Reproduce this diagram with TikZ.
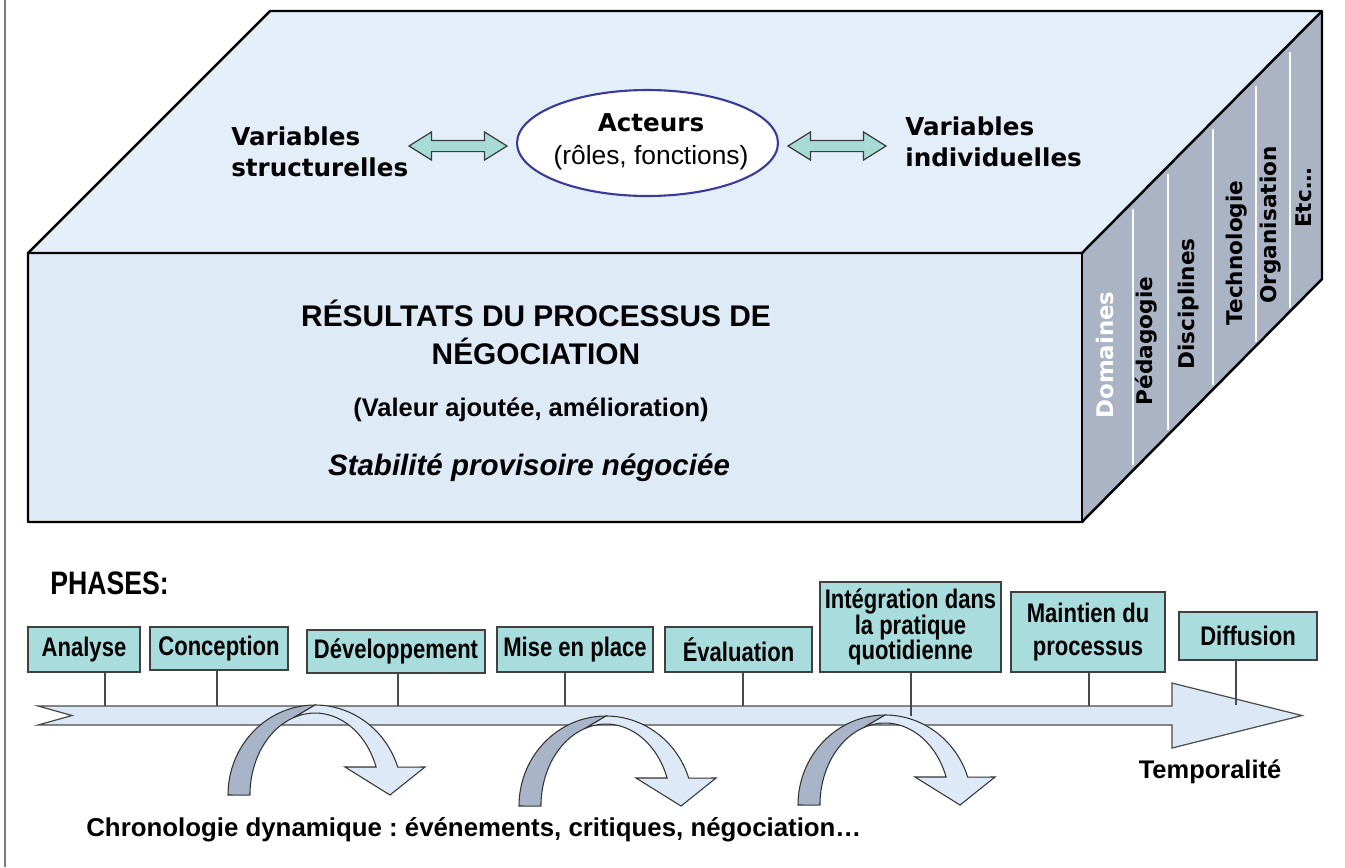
\documentclass[tikz,border=0pt]{standalone}
\usepackage{fontspec}
\setmainfont{Liberation Sans}
\newfontfamily\wideface{DejaVu Sans}
\newfontfamily\narrowface[FakeStretch=0.82]{Liberation Sans}
\usetikzlibrary{shapes.geometric,shapes.arrows}
\frenchspacing

\definecolor{topface}{HTML}{E4EEF8}
\definecolor{frontface}{HTML}{DEEAF6}
\definecolor{sideface}{HTML}{AAB4C5}
\definecolor{phasefill}{HTML}{A9DCDC}
\definecolor{phaseedge}{HTML}{404040}
\definecolor{linkfill}{HTML}{A6DBD6}
\definecolor{linkedge}{HTML}{3C3C3C}
\definecolor{timefill}{HTML}{DCE8F5}
\definecolor{timeedge}{HTML}{4A4A4A}
\definecolor{archback}{HTML}{A8B5C9}
\definecolor{archfront}{HTML}{DDE9F6}
\definecolor{archedge}{HTML}{333333}
\definecolor{actorblue}{HTML}{3A3A9A}
\definecolor{framegray}{HTML}{7A7A7A}

\newcommand\phasefont{\narrowface\bfseries\fontsize{15.3}{14.6}\selectfont\lineskiplimit=-20pt}
\newcommand\sidefont{\wideface\bfseries\fontsize{12.3}{14}\selectfont}

% loop arrow: #1 = left edge of the back leg, #2 = foot line
\newcommand\DrawLoopArrow[2]{%
  \begin{scope}[shift={(#1,#2)}]
    \draw[fill=archback,draw=archedge,line width=0.6pt] (0,0)
      arc[start angle=180,end angle=270,x radius=87,y radius=90] -- (65.8,-77.5)
      arc[start angle=251,end angle=180,x radius=65,y radius=82] -- cycle;
    \draw[fill=archfront,draw=archedge,line width=0.6pt] (87,-90)
      arc[start angle=270,end angle=341.9,x radius=87,y radius=90]
      -- (197,-28) -- (162,0) -- (117,-28) -- (148.1,-28)
      arc[start angle=340,end angle=251,x radius=65,y radius=82] -- cycle;
  \end{scope}
}

\tikzset{
  box edge/.style={draw=black,line width=1.4pt,line join=round},
  phase/.style={draw=phaseedge,fill=phasefill,line width=0.8pt,inner sep=0pt,
    align=center,font=\phasefont},
  tick/.style={draw=timeedge,line width=0.6pt},
  twoway/.style={double arrow,draw=linkedge,fill=linkfill,line width=0.7pt,
    inner xsep=0pt,inner ysep=0.1cm,double arrow head extend=0.17cm,
    double arrow tip angle=64,minimum width=0.54cm},
  divider/.style={white,line width=1pt},
  domain label/.style={rotate=90,inner sep=0pt,font=\sidefont}
}

\begin{document}
\begin{tikzpicture}[x=0.02cm,y=-0.02cm]

	\useasboundingbox (0,0) rectangle (1345,867);
	\draw[framegray,line width=0.8pt] (5,0) -- (5,867);

	% the block: top, front and side faces
	\fill[topface] (28,253) -- (270,11) -- (1322,11) -- (1082,253) -- cycle;
	\fill[frontface] (28,253) rectangle (1082,522);
	\fill[sideface] (1082,253) -- (1322,11) -- (1322,279) -- (1082,522) -- cycle;
	\foreach \xd in {1133,1168,1213,1256,1290}
		\draw[divider] (\xd,{260-(\xd-1082)}) -- (\xd,{516-(\xd-1082)});
	\draw[box edge] (28,253) -- (270,11) -- (1322,11) -- (1322,279) -- (1082,522)
		-- (28,522) -- cycle;
	\draw[box edge] (28,253) -- (1082,253) -- (1322,11);
	\draw[box edge] (1082,253) -- (1082,522);

	% domains on the side face
	\node[domain label,text=white,font=\wideface\bfseries\fontsize{13}{15}\selectfont]
		(domaines) at (1105,355) {Domaines};
	\node[domain label] (pedagogie) at (1146,341) {Pédagogie};
	\node[domain label] (disciplines) at (1189,304) {Disciplines};
	\node[domain label] (technologie) at (1237,253) {Technologie};
	\node[domain label] (organisation) at (1271,225) {Organisation};
	\node[domain label] (etc) at (1304,198) {Etc…};

	% top face: actors between the two kinds of variables
	\node[ellipse,draw=actorblue,line width=1.2pt,fill=white,minimum width=5.22cm,
		minimum height=2.12cm,inner sep=0pt] (acteurs) at (647.5,143) {};
	\node[align=center,inner sep=0pt,font=\fontsize{15}{19}\selectfont] (acteursText) at (651,142)
		{{\wideface\bfseries\fontsize{14}{17}\selectfont Acteurs}\\(rôles, fonctions)};
	\node[anchor=west,align=left,inner sep=0pt,font=\wideface\bfseries\fontsize{14}{17.6}\selectfont]
		(varS) at (231,152) {Variables\\structurelles};
	\node[anchor=west,align=left,inner sep=0pt,font=\wideface\bfseries\fontsize{14}{17.6}\selectfont]
		(varI) at (905,142) {Variables\\individuelles};
	\node[twoway,minimum height=1.96cm] (linkS) at (458,146) {};
	\node[twoway,minimum height=1.96cm] (linkI) at (837,146) {};

	% front face
	\node[align=center,font=\bfseries\fontsize{17}{21.6}\selectfont]
		(resultats) at (536,332) {RÉSULTATS DU PROCESSUS DE\\NÉGOCIATION};
	\node[font=\bfseries\fontsize{14.5}{17}\selectfont] (valeur) at (531,410)
		{(Valeur ajoutée, amélioration)};
	\node[font=\bfseries\itshape\fontsize{16.8}{20}\selectfont] (stabilite) at (529,468)
		{Stabilité provisoire négociée};

	% time line
	\node[anchor=west,inner sep=0pt,font=\narrowface\bfseries\fontsize{18.5}{20}\selectfont]
		(phases) at (50,583) {PHASES:};
	\draw[fill=timefill,draw=timeedge,line width=0.7pt] (38,706) -- (1172,706) -- (1172,683)
		-- (1302,715.5) -- (1172,748) -- (1172,725) -- (38,725) -- (72,715.5) -- cycle;

	\node[phase,minimum width=2.24cm,minimum height=0.9cm] (analyse) at (84,649.5) {Analyse};
	\node[phase,minimum width=2.76cm,minimum height=0.86cm] (conception) at (219,648.5) {Conception};
	\node[phase,minimum width=3.56cm,minimum height=0.86cm] (developpement) at (396,651.5) {Développement};
	\node[phase,minimum width=3.12cm,minimum height=0.9cm] (miseplace) at (575,649.5) {Mise en place};
	\node[phase,minimum width=2.94cm,minimum height=0.9cm] (evaluation) at (738.5,649.5) {Évaluation};
	\node[phase,minimum width=3.62cm,minimum height=1.8cm] (integration) at (910.5,627)
		{Intégration dans\\la pratique\\quotidienne};
	\node[phase,minimum width=3.08cm,minimum height=1.6cm] (maintien) at (1088,632)
		{Maintien du\\[4pt]processus};
	\node[phase,minimum width=2.76cm,minimum height=0.96cm] (diffusion) at (1248,636) {Diffusion};

	\coordinate (tAnalyse) at (105,706);
	\coordinate (tConception) at (217,706);
	\coordinate (tDeveloppement) at (398,706);
	\coordinate (tMiseplace) at (565,706);
	\coordinate (tEvaluation) at (743,706);
	\coordinate (tIntegration) at (911,716);
	\coordinate (tMaintien) at (1089,706);
	\coordinate (tDiffusion) at (1236,705);
	\draw[tick] (analyse.south -| tAnalyse) -- (tAnalyse)
		(conception.south -| tConception) -- (tConception)
		(developpement.south -| tDeveloppement) -- (tDeveloppement)
		(miseplace.south -| tMiseplace) -- (tMiseplace)
		(evaluation.south -| tEvaluation) -- (tEvaluation)
		(integration.south -| tIntegration) -- (tIntegration)
		(maintien.south -| tMaintien) -- (tMaintien)
		(diffusion.south -| tDiffusion) -- (tDiffusion);

	\DrawLoopArrow{228}{795}
	\DrawLoopArrow{519}{806}
	\DrawLoopArrow{798}{805}

	\node[font=\bfseries\fontsize{14.5}{17}\selectfont] (temporalite) at (1210,772) {Temporalité};
	\node[anchor=west,inner sep=0pt,font=\bfseries\fontsize{14.7}{18}\selectfont] (chronologie) at (86,830)
		{Chronologie dynamique : événements, critiques, négociation…};

\end{tikzpicture}
\end{document}
